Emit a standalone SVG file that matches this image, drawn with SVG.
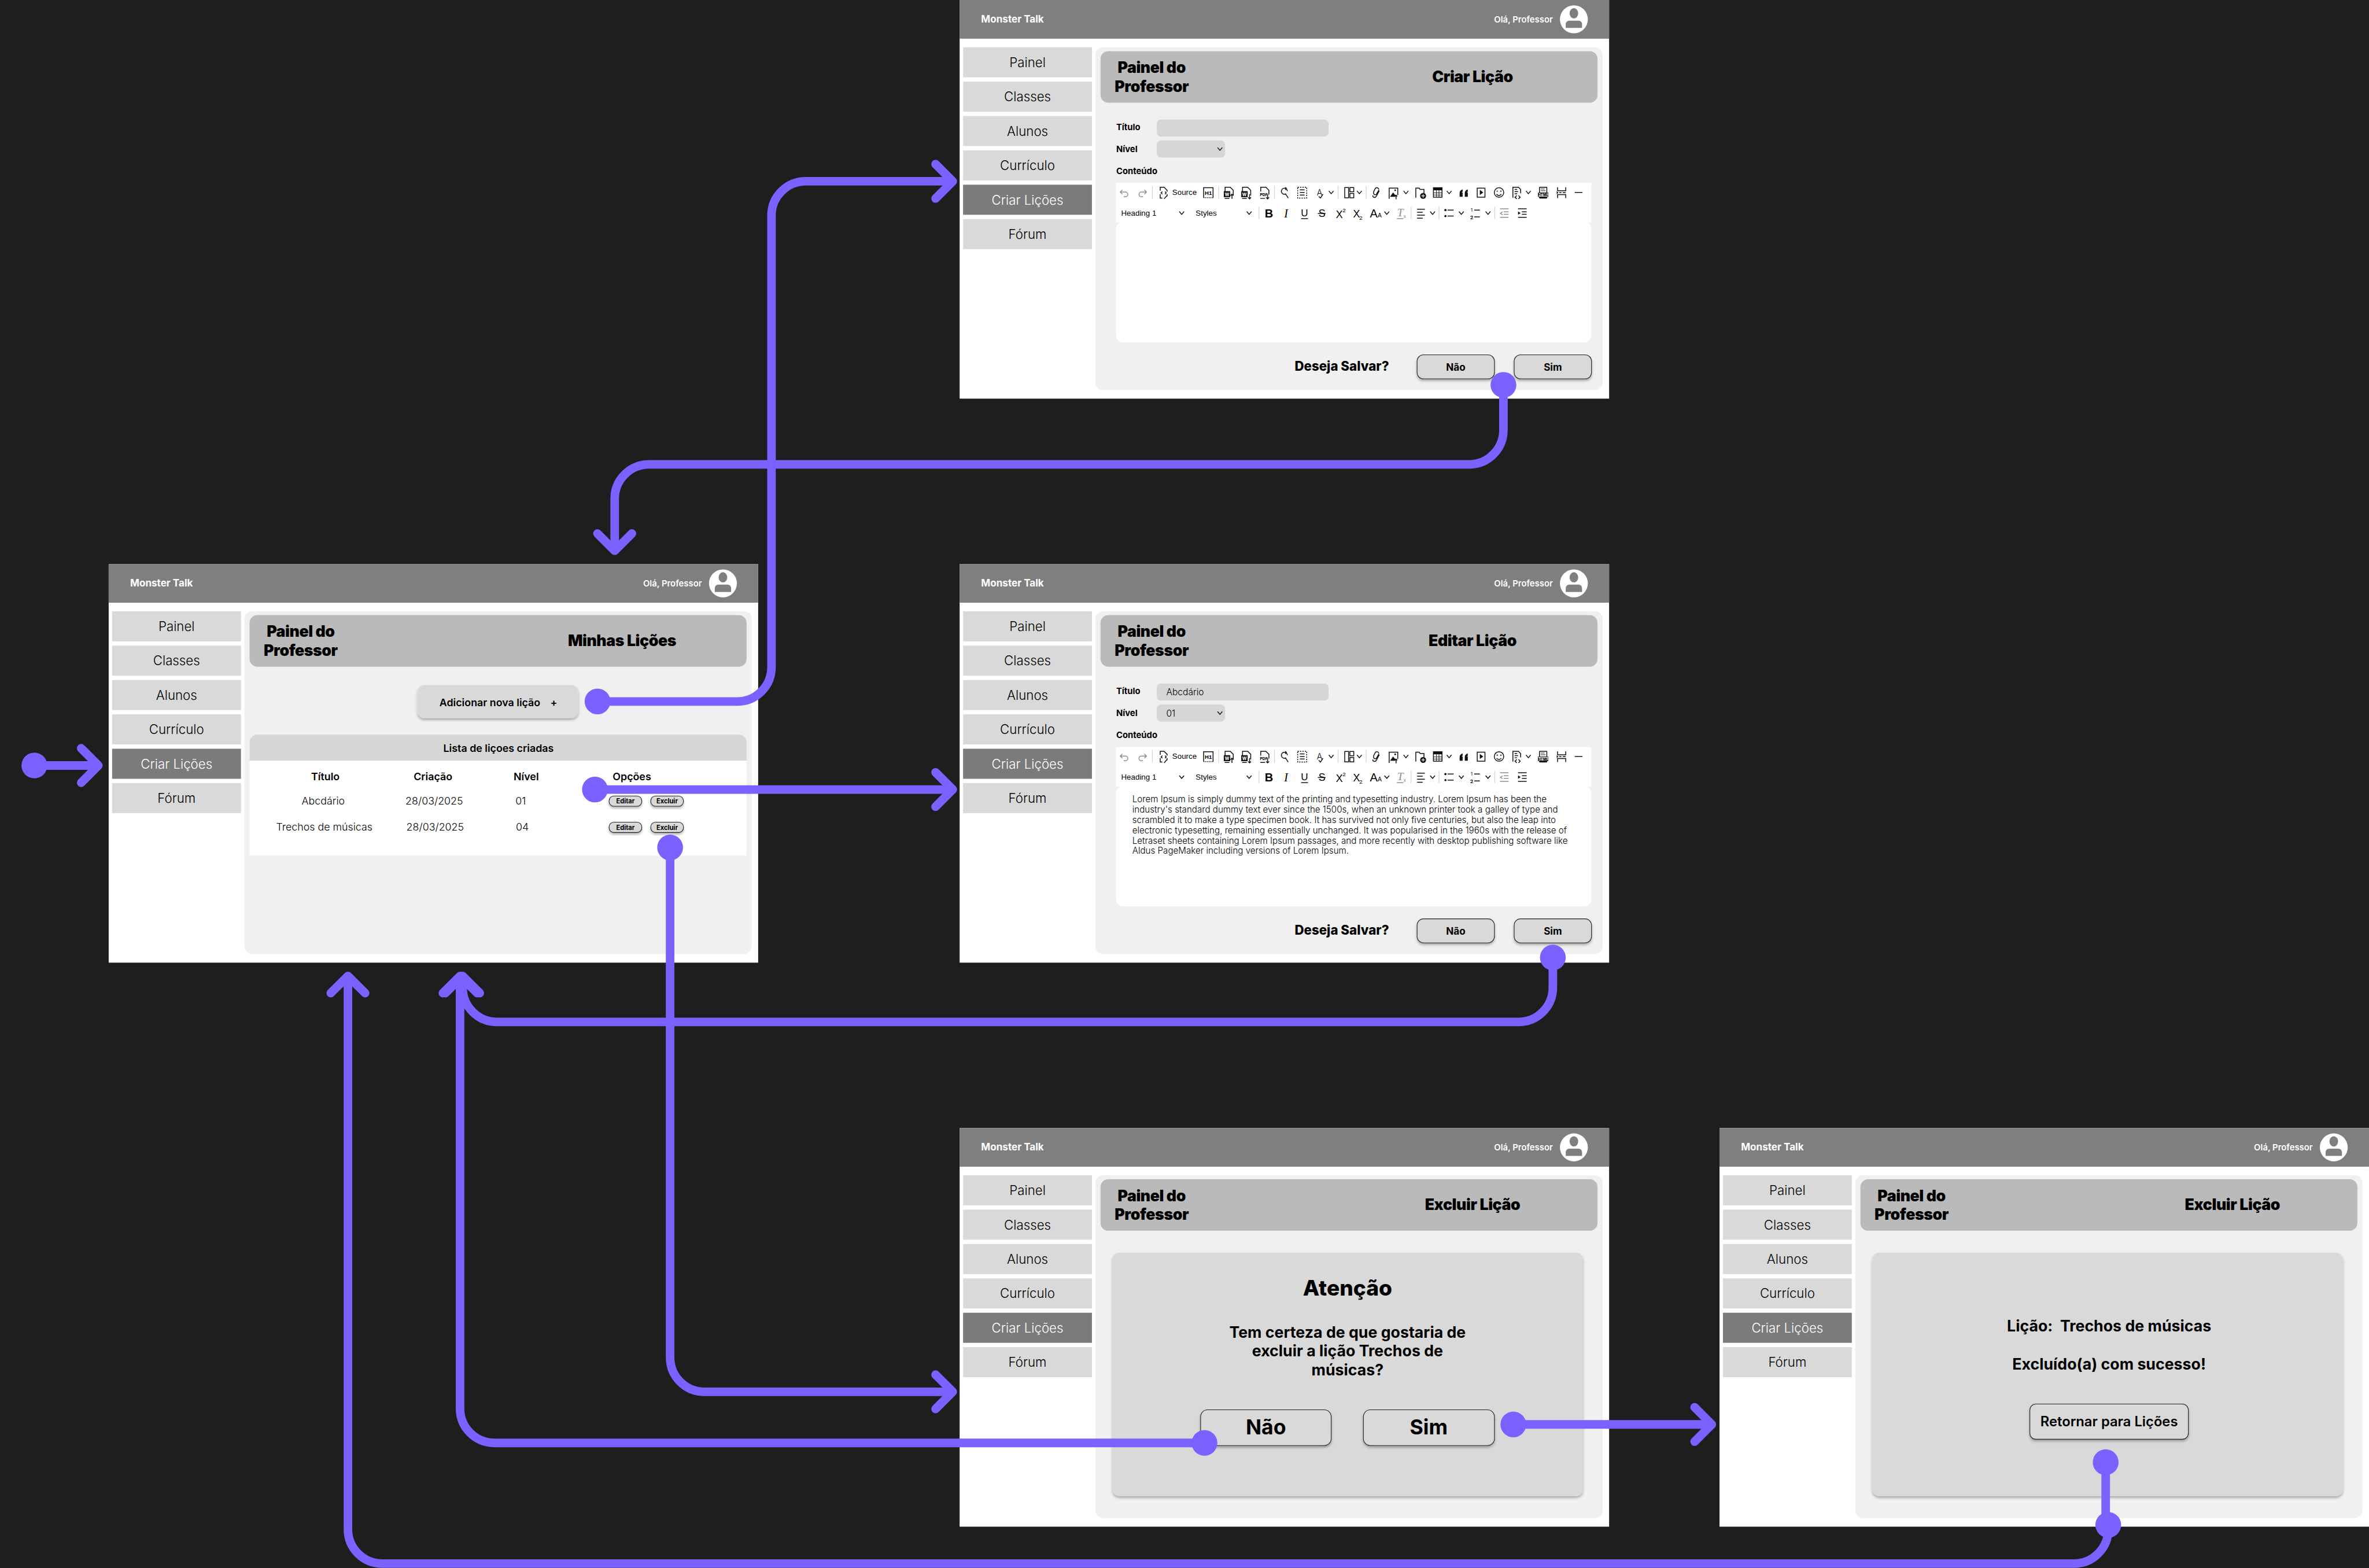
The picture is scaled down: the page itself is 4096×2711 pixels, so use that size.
<svg xmlns="http://www.w3.org/2000/svg" xmlns:xlink="http://www.w3.org/1999/xlink" width="4096" height="2711" viewBox="0 0 4096 2711">
<style>
text{font-family:Inter,"Noto Sans",sans-serif;fill:#000}
.nav{font-size:30px;font-weight:300;text-anchor:middle}
.navw{fill:#fff}
.brand{font-size:23px;font-weight:700;fill:#fff}
.hello{font-size:20px;font-weight:600;fill:#fff;text-anchor:end}
.h1{font-size:36px;font-weight:900;letter-spacing:-.6px;text-anchor:middle}
.lab{font-size:20px;font-weight:700}
.val{font-size:21px;font-weight:300}
.ask{font-size:30px;font-weight:800}
.btxt{font-size:23px;font-weight:700;text-anchor:middle}
.th{font-size:24px;font-weight:600;text-anchor:middle}
.td{font-size:24px;font-weight:300;text-anchor:middle}
.mini{font-size:15px;font-weight:700;text-anchor:middle}
.lo{font-size:20.4px;font-weight:300}
.msg{font-size:36px;font-weight:700;text-anchor:middle}
.big{font-size:50px;font-weight:800;text-anchor:middle}
.tbt{font-family:"Liberation Sans",Arial,sans-serif;font-size:18px}
.i{fill:none;stroke:#111;stroke-width:2}
.ig{fill:none;stroke:#8d8d8d;stroke-width:2}
.f{fill:#111}
.sep{stroke:#cfcfcf;stroke-width:1.5}
.g1{fill:#d9d9d9}
.btn{fill:#d9d9d9;stroke:#222;stroke-width:1.5;filter:url(#sh)}
.card{fill:#d9d9d9;filter:url(#sh)}
.wire{fill:none;stroke:#7b61ff;stroke-width:20}
.head{fill:none;stroke:#7b61ff;stroke-width:20;stroke-linecap:round;stroke-linejoin:round}
.dot{fill:#7b61ff}
</style>
<defs>
<filter id="sh" x="-10%" y="-20%" width="120%" height="150%"><feDropShadow dx="0" dy="4" stdDeviation="3" flood-color="#000" flood-opacity=".3"/></filter>
<path id="arrR" d="M-40,-40L0,0L-40,40"/>
<path id="arrU" d="M-40,40L0,0L40,40"/>
<path id="arrD" d="M-40,-40L0,0L40,-40"/>
<path id="ch" class="i" d="M-5.500,-3.500L0,3L5.500,-3.500"/>
<g id="base">
<rect width="1512" height="928" fill="#fff"/>
<rect width="1512" height="90" fill="#7f7f7f"/>
<ellipse cx="1430" cy="45" rx="32.5" ry="32.5" fill="#fff"/>
<ellipse cx="1430" cy="31" rx="10" ry="12" fill="#7f7f7f"/>
<path d="M1411,65v-9a8,8 0 0 1 8,-8h22a8,8 0 0 1 8,8v9z" fill="#7f7f7f"/>
<rect class="g1" x="8" y="110" width="300" height="70"/>
<rect class="g1" x="8" y="190" width="300" height="70"/>
<rect class="g1" x="8" y="270" width="300" height="70"/>
<rect class="g1" x="8" y="350" width="300" height="70"/>
<rect fill="#7b7b7b" x="8" y="430" width="300" height="70"/>
<rect class="g1" x="8" y="510" width="300" height="70"/>
<rect x="316" y="110" width="1181" height="798" rx="18" fill="#f0f0f0"/>
<rect x="328" y="119" width="1157" height="120" rx="18" fill="#bababa"/>
</g>
<g id="tb">
<rect x="364" y="426" width="1106.500" height="92" fill="#fff"/>
<rect x="364" y="517" width="1106.500" height="280" rx="16" fill="#fff"/>
<path class="sep" d="M448.600,433V463M602.800,433V463M732.800,433V463M881,433V463M946.400,433V463M696.800,481V510M1051,481V510M1116,481V510M1245.700,481V510"/>
<path class="ig" d="M379,442l-5,5 5,5M374,447h12a5,5 0 0 1 0,11h-4M430,442l5,5-5,5M435,447h-12a5,5 0 0 0 0,11h4"/>
<path class="i" d="M467,444v-8h9l7,7v3M483,452v5M467,452v9h5M472,446l-3,3 3,3M478,446l3,3-3,3M476,463l7,-8"/>
<path class="i" d="M568,460v-23h22v23"/><path class="i" stroke-dasharray="2 2" d="M568,460h22"/><text x="579" y="454" text-anchor="middle" style="font-family:'Liberation Sans';font-size:13px;font-weight:700">H1</text>
<g id="wd"><path class="i" d="M618,446v-10h12l7,7v12"/><rect class="f" x="615" y="445" width="15" height="14"/><text x="622.500" y="456" style="font-size:10px;font-weight:700;fill:#fff" text-anchor="middle">W</text><path class="i" d="M617,462h11"/></g>
<path class="i" d="M634,463v-11m-3.500,3.500l3.500,-3.500 3.500,3.500"/>
<use href="#wd" x="40.600"/><path class="i" d="M675,452v11m-3.500,-3.500l3.500,3.500 3.500,-3.500"/>
<path class="i" d="M701,446v-10h12l7,7v10M700,462h11M717,452v11m-3.500,-3.500l3.500,3.500 3.500,-3.500"/><text x="708" y="456" style="font-size:9px;font-weight:800" text-anchor="middle">PDF</text>
<path class="i" stroke-width="2.500" d="M763,445a7,7 0 1 0 -3,6M759,452l6,9M758,436l3,3-3,3"/>
<rect class="i" x="787" y="436" width="21" height="25" stroke-dasharray="3 2.500"/><path class="i" d="M792,442h11M792,448h11M792,454h11"/>
<text x="838" y="455" style="font-size:19px;font-weight:300" text-anchor="middle">A</text><path class="i" d="M836,457l4,4 6,-9"/><use href="#ch" x="865" y="448"/>
<path class="i" d="M896.500,436.500h9v24h-9zM908.500,436.500h9v10h-9zM908.500,450.500h9v10h-9z"/><use href="#ch" x="930.600" y="448"/>
<path class="i" d="M976,441a5,5 0 0 0 -8,-3l-4,8c-2,8 5,9 7,5l5,-9M962,455c-1,5 6,6 8,2l7,-13"/>
<path class="i" d="M1000,463v-25h20v16"/><path class="f" d="M1002,458l7,-10 5,6v4z"/><circle class="f" cx="1014" cy="443" r="2"/><path class="i" d="M1016,464v-10m-3,3l3,-3 3,3"/><use href="#ch" x="1039" y="448"/>
<path class="i" d="M1062,460v-22h8l2,3h9v9"/><circle class="f" cx="1079" cy="456" r="7"/><path d="M1079,452v8M1075,456h8" stroke="#fff" stroke-width="1.500"/>
<rect class="i" x="1103" y="437" width="20" height="22"/><rect class="f" x="1103" y="437" width="20" height="6"/><path d="M1103,449h20M1103,454h20M1110,443v16M1116,443v16" stroke="#111" stroke-width="1.300"/><use href="#ch" x="1139.600" y="448"/>
<path class="f" d="M1164,458v-9c0,-4 3,-7 7,-8v5c-1,1 -2,1 -2,2h2v10zM1176,458v-9c0,-4 3,-7 7,-8v5c-1,1 -2,1 -2,2h2v10z"/>
<rect class="i" stroke-width="3" x="1205" y="438" width="18" height="21"/><path class="f" d="M1211,442l8,6 -8,6z"/>
<circle class="i" cx="1255.700" cy="448" r="11"/><circle class="f" cx="1251.500" cy="445" r="1.500"/><circle class="f" cx="1260" cy="445" r="1.500"/><path class="i" d="M1250,452c3,4 8,4 11,0"/>
<path class="i" d="M1288,460v-24h13l5,5v9M1292,441h6M1292,446h8M1292,451h6M1297,455l-4,4 4,4M1301,455l4,4-4,4"/><use href="#ch" x="1324" y="448"/>
<rect class="f" x="1349" y="435" width="19" height="27" rx="2"/><rect x="1351" y="437" width="15" height="11" fill="#fff"/><path d="M1353,440h9M1353,444h11" stroke="#111" stroke-width="1.300"/><rect x="1347" y="449" width="23" height="9" fill="#fff" stroke="#111"/><text x="1358.500" y="457" style="font-size:8px;font-weight:800" text-anchor="middle">HTML</text>
<path class="i" d="M1392,436v8h19v-8M1392,461v-8h19v8M1396,448.500h5M1404,448.500h7"/><path class="f" d="M1390,445l4,3.500 -4,3.500z"/>
<path class="i" stroke-width="3" d="M1432,448h18"/>
<use href="#ch" x="517" y="496"/><use href="#ch" x="674" y="496"/>
<text x="720" y="506" text-anchor="middle" style="font-family:'Liberation Sans';font-size:27px;font-weight:700">B</text>
<text x="760" y="506" text-anchor="middle" style="font-family:'Liberation Serif';font-size:27px;font-style:italic">I</text>
<text x="802.800" y="503" text-anchor="middle" style="font-family:'Liberation Sans';font-size:23px">U</text><path class="i" d="M795,509h16"/>
<text x="843.400" y="505" text-anchor="middle" style="font-family:'Liberation Sans';font-size:24px">S</text><path class="i" d="M834,497h18"/>
<text x="884" y="507" text-anchor="middle" style="font-family:'Liberation Sans';font-size:24px">X</text><text x="895" y="494" text-anchor="middle" style="font-family:'Liberation Sans';font-size:13px">2</text>
<text x="924" y="506" text-anchor="middle" style="font-family:'Liberation Sans';font-size:24px">X</text><text x="934" y="512" text-anchor="middle" style="font-family:'Liberation Sans';font-size:13px">2</text>
<text x="964" y="506" text-anchor="middle" style="font-family:'Liberation Sans';font-size:27px">A</text><text x="978" y="506" text-anchor="middle" style="font-family:'Liberation Sans';font-size:14px">A</text><use href="#ch" x="994.500" y="496"/>
<text x="1026" y="504" text-anchor="middle" style="font-family:'Liberation Serif';font-size:26px;font-style:italic;fill:#8d8d8d">T</text><text x="1036" y="508" text-anchor="middle" style="font-family:'Liberation Sans';font-size:12px;fill:#8d8d8d">x</text><path class="ig" d="M1018,509h15"/>
<path class="i" d="M1065,487h18M1065,494h13M1065,501h18M1065,508h13"/><use href="#ch" x="1101" y="496"/>
<path class="i" d="M1136,489h14M1136,503h14"/><circle class="f" cx="1131" cy="489" r="2.500"/><circle class="f" cx="1131" cy="503" r="2.500"/><use href="#ch" x="1168" y="496"/>
<path class="i" d="M1198,489h13M1198,505h13"/><text x="1192" y="493" style="font-size:11px" text-anchor="middle">1</text><text x="1192" y="510" style="font-size:11px;font-weight:700" text-anchor="middle">2</text><use href="#ch" x="1230" y="496"/>
<path class="ig" d="M1258,486h20M1267,493h11M1267,499h11M1258,506h20M1264,493l-5,3.500 5,3.500"/>
<path class="i" d="M1300,486h20M1309,493h11M1309,499h11M1300,506h20"/><path class="f" d="M1300,492l6,4 -6,4z"/>
</g>
<g id="save">
<rect class="btn" x="1065" y="826" width="180" height="56" rx="15"/>
<rect class="btn" x="1291" y="826" width="180" height="56" rx="15"/>
</g>
</defs>
<rect width="4096" height="2711" fill="#1e1e1e"/>
<g transform="scale(.7427)">

<g id="screen-minhas" transform="translate(253,1313)">
<use href="#base"/>
<text class="brand" x="50" y="52">Monster Talk</text><text class="hello" x="1381" y="52">Olá, Professor</text>
<text class="nav" x="158" y="156">Painel</text><text class="nav" x="158" y="236">Classes</text><text class="nav" x="158" y="316">Alunos</text><text class="nav" x="158" y="396">Currículo</text><text class="nav navw" x="158" y="476">Criar Lições</text><text class="nav" x="158" y="556">Fórum</text>
<text class="h1" x="447" y="170">Painel do</text><text class="h1" x="447" y="214">Professor</text>
<text class="h1" x="1195" y="191">Minhas Lições</text>
<rect class="card" x="719" y="282" width="374" height="77" rx="16"/>
<text x="770" y="331" style="font-size:24px;font-weight:600">Adicionar nova lição</text><text x="1028" y="331" style="font-size:24px;font-weight:600">+</text>
<path d="M328,458v-43a18,18 0 0 1 18,-18h1121a18,18 0 0 1 18,18v43z" fill="#d6d6d6"/>
<rect x="328" y="458" width="1157" height="221" fill="#fff"/>
<text class="th" x="907.500" y="437">Lista de liçoes criadas</text>
<text class="th" x="504.500" y="503">Título</text><text class="th" x="755" y="503">Criação</text><text class="th" x="972" y="503">Nível</text><text class="th" x="1218" y="503">Opções</text>
<text class="td" x="499.500" y="560">Abcdário</text><text class="td" x="758" y="560">28/03/2025</text><text class="td" x="959" y="560">01</text>
<text class="td" x="502" y="621">Trechos de músicas</text><text class="td" x="760" y="621">28/03/2025</text><text class="td" x="963" y="621">04</text>
<rect class="btn" x="1165" y="540" width="76" height="24" rx="11"/><rect class="btn" x="1262" y="540" width="76" height="24" rx="11"/>
<rect class="btn" x="1165" y="601" width="76" height="24" rx="11"/><rect class="btn" x="1262" y="601" width="76" height="24" rx="11"/>
<text class="mini" x="1203" y="557.500">Editar</text><text class="mini" x="1300" y="557.500">Excluir</text>
<text class="mini" x="1203" y="618.500">Editar</text><text class="mini" x="1300" y="618.500">Excluir</text>
</g>

<g id="screen-criar" transform="translate(2234,0)">
<use href="#base"/>
<text class="brand" x="50" y="52">Monster Talk</text><text class="hello" x="1381" y="52">Olá, Professor</text>
<text class="nav" x="158" y="156">Painel</text><text class="nav" x="158" y="236">Classes</text><text class="nav" x="158" y="316">Alunos</text><text class="nav" x="158" y="396">Currículo</text><text class="nav navw" x="158" y="476">Criar Lições</text><text class="nav" x="158" y="556">Fórum</text>
<text class="h1" x="447" y="170">Painel do</text><text class="h1" x="447" y="214">Professor</text>
<text class="h1" x="1194" y="191">Criar Lição</text>
<text class="lab" x="364.500" y="303">Título</text><rect x="459" y="278" width="400" height="40" rx="10" fill="#d6d6d6"/>
<text class="lab" x="364.500" y="354">Nível</text><rect x="459" y="327" width="159" height="40" rx="10" fill="#d6d6d6"/><use href="#ch" x="606" y="347"/>
<text class="lab" x="364.500" y="405">Conteúdo</text>
<use href="#tb"/>
<text class="tbt" x="495" y="454">Source</text><text class="tbt" x="376" y="502">Heading 1</text><text class="tbt" x="549.500" y="502">Styles</text>
<use href="#save"/>
<text class="ask" x="780" y="863">Deseja Salvar?</text>
<text class="btxt" x="1155" y="863">Não</text><text class="btxt" x="1381" y="863">Sim</text>
</g>

<g id="screen-editar" transform="translate(2234,1313)">
<use href="#base"/>
<text class="brand" x="50" y="52">Monster Talk</text><text class="hello" x="1381" y="52">Olá, Professor</text>
<text class="nav" x="158" y="156">Painel</text><text class="nav" x="158" y="236">Classes</text><text class="nav" x="158" y="316">Alunos</text><text class="nav" x="158" y="396">Currículo</text><text class="nav navw" x="158" y="476">Criar Lições</text><text class="nav" x="158" y="556">Fórum</text>
<text class="h1" x="447" y="170">Painel do</text><text class="h1" x="447" y="214">Professor</text>
<text class="h1" x="1194" y="191">Editar Lição</text>
<text class="lab" x="364.500" y="303">Título</text><rect x="459" y="278" width="400" height="40" rx="10" fill="#d6d6d6"/><text class="val" x="481" y="305">Abcdário</text>
<text class="lab" x="364.500" y="354">Nível</text><rect x="459" y="327" width="159" height="40" rx="10" fill="#d6d6d6"/><use href="#ch" x="606" y="347"/><text class="val" x="481" y="355">01</text>
<text class="lab" x="364.500" y="405">Conteúdo</text>
<use href="#tb"/>
<text class="tbt" x="495" y="454">Source</text><text class="tbt" x="376" y="502">Heading 1</text><text class="tbt" x="549.500" y="502">Styles</text>
<text class="lo" x="402" y="555">Lorem Ipsum is simply dummy text of the printing and typesetting industry. Lorem Ipsum has been the</text>
<text class="lo" x="402" y="579">industry's standard dummy text ever since the 1500s, when an unknown printer took a galley of type and</text>
<text class="lo" x="402" y="603">scrambled it to make a type specimen book. It has survived not only five centuries, but also the leap into</text>
<text class="lo" x="402" y="627">electronic typesetting, remaining essentially unchanged. It was popularised in the 1960s with the release of</text>
<text class="lo" x="402" y="651">Letraset sheets containing Lorem Ipsum passages, and more recently with desktop publishing software like</text>
<text class="lo" x="402" y="675">Aldus PageMaker including versions of Lorem Ipsum.</text>
<use href="#save"/>
<text class="ask" x="780" y="863">Deseja Salvar?</text>
<text class="btxt" x="1155" y="863">Não</text><text class="btxt" x="1381" y="863">Sim</text>
</g>

<g id="screen-excluir" transform="translate(2234,2626)">
<use href="#base"/>
<text class="brand" x="50" y="52">Monster Talk</text><text class="hello" x="1381" y="52">Olá, Professor</text>
<text class="nav" x="158" y="156">Painel</text><text class="nav" x="158" y="236">Classes</text><text class="nav" x="158" y="316">Alunos</text><text class="nav" x="158" y="396">Currículo</text><text class="nav navw" x="158" y="476">Criar Lições</text><text class="nav" x="158" y="556">Fórum</text>
<text class="h1" x="447" y="170">Painel do</text><text class="h1" x="447" y="214">Professor</text>
<text class="h1" x="1194" y="191">Excluir Lição</text>
<rect class="card" x="356" y="290" width="1095" height="567" rx="16"/>
<text class="big" x="903" y="390">Atenção</text>
<text class="msg" x="903" y="488">Tem certeza de que gostaria de</text><text class="msg" x="903" y="532">excluir a lição Trechos de</text><text class="msg" x="903" y="576">músicas?</text>
<rect class="btn" x="561" y="656" width="304" height="83" rx="16"/><rect class="btn" x="940" y="656" width="305" height="83" rx="16"/>
<text class="big" x="713" y="713" style="font-weight:700;font-size:48px">Não</text><text class="big" x="1092" y="713" style="font-weight:700;font-size:48px">Sim</text>
</g>

<g id="screen-sucesso" transform="translate(4003,2626)">
<use href="#base"/>
<text class="brand" x="50" y="52">Monster Talk</text><text class="hello" x="1381" y="52">Olá, Professor</text>
<text class="nav" x="158" y="156">Painel</text><text class="nav" x="158" y="236">Classes</text><text class="nav" x="158" y="316">Alunos</text><text class="nav" x="158" y="396">Currículo</text><text class="nav navw" x="158" y="476">Criar Lições</text><text class="nav" x="158" y="556">Fórum</text>
<text class="h1" x="447" y="170">Painel do</text><text class="h1" x="447" y="214">Professor</text>
<text class="h1" x="1194" y="191">Excluir Lição</text>
<rect class="card" x="356" y="290" width="1095" height="567" rx="16"/>
<text class="msg" x="907" y="474" xml:space="preserve">Lição:  Trechos de músicas</text><text class="msg" x="907" y="562">Excluído(a) com sucesso!</text>
<rect class="btn" x="722.500" y="642.500" width="369" height="82" rx="14"/>
<text x="907" y="694" text-anchor="middle" style="font-size:32px;font-weight:600">Retornar para Lições</text>
</g>

<g id="connectors">
<path class="wire" d="M80,1782H229"/><use class="head" href="#arrR" x="229" y="1782"/><circle class="dot" cx="80" cy="1782" r="30"/>
<path class="wire" d="M1391,1633H1716A80,80 0 0 0 1796,1553V502A80,80 0 0 1 1876,422H2218"/><use class="head" href="#arrR" x="2218" y="422"/><circle class="dot" cx="1391" cy="1633" r="30"/>
<path class="wire" d="M3500,896V1001A80,80 0 0 1 3420,1081H1511A80,80 0 0 0 1431,1161V1282"/><use class="head" href="#arrD" x="1431" y="1282"/><circle class="dot" cx="3500" cy="896" r="30"/>
<path class="wire" d="M1385,1838H2218"/><use class="head" href="#arrR" x="2218" y="1838"/><circle class="dot" cx="1385" cy="1838" r="30"/>
<path class="wire" d="M1560,1973V3160A80,80 0 0 0 1640,3240H2218"/><use class="head" href="#arrR" x="2218" y="3240"/><circle class="dot" cx="1560" cy="1973" r="30"/>
<path class="wire" d="M3615,2229V2299A80,80 0 0 1 3535,2379H1157A80,80 0 0 1 1077,2299V2272"/><use class="head" href="#arrU" x="1077" y="2272"/><circle class="dot" cx="3615" cy="2229" r="30"/>
<path class="wire" d="M2804,3359H1151A80,80 0 0 1 1071,3279V2272"/><use class="head" href="#arrU" x="1071" y="2272"/><circle class="dot" cx="2804" cy="3359" r="30"/>
<path class="wire" d="M3523,3316H3985"/><use class="head" href="#arrR" x="3985" y="3316"/><circle class="dot" cx="3523" cy="3316" r="30"/>
<path class="wire" d="M4902,3404V3550"/><circle class="dot" cx="4902" cy="3404" r="30"/>
<path class="wire" d="M4908,3550V3560A80,80 0 0 1 4828,3640H890A80,80 0 0 1 810,3560V2272"/><use class="head" href="#arrU" x="810" y="2272"/><circle class="dot" cx="4908" cy="3550" r="30"/>
</g>
</g>
</svg>
